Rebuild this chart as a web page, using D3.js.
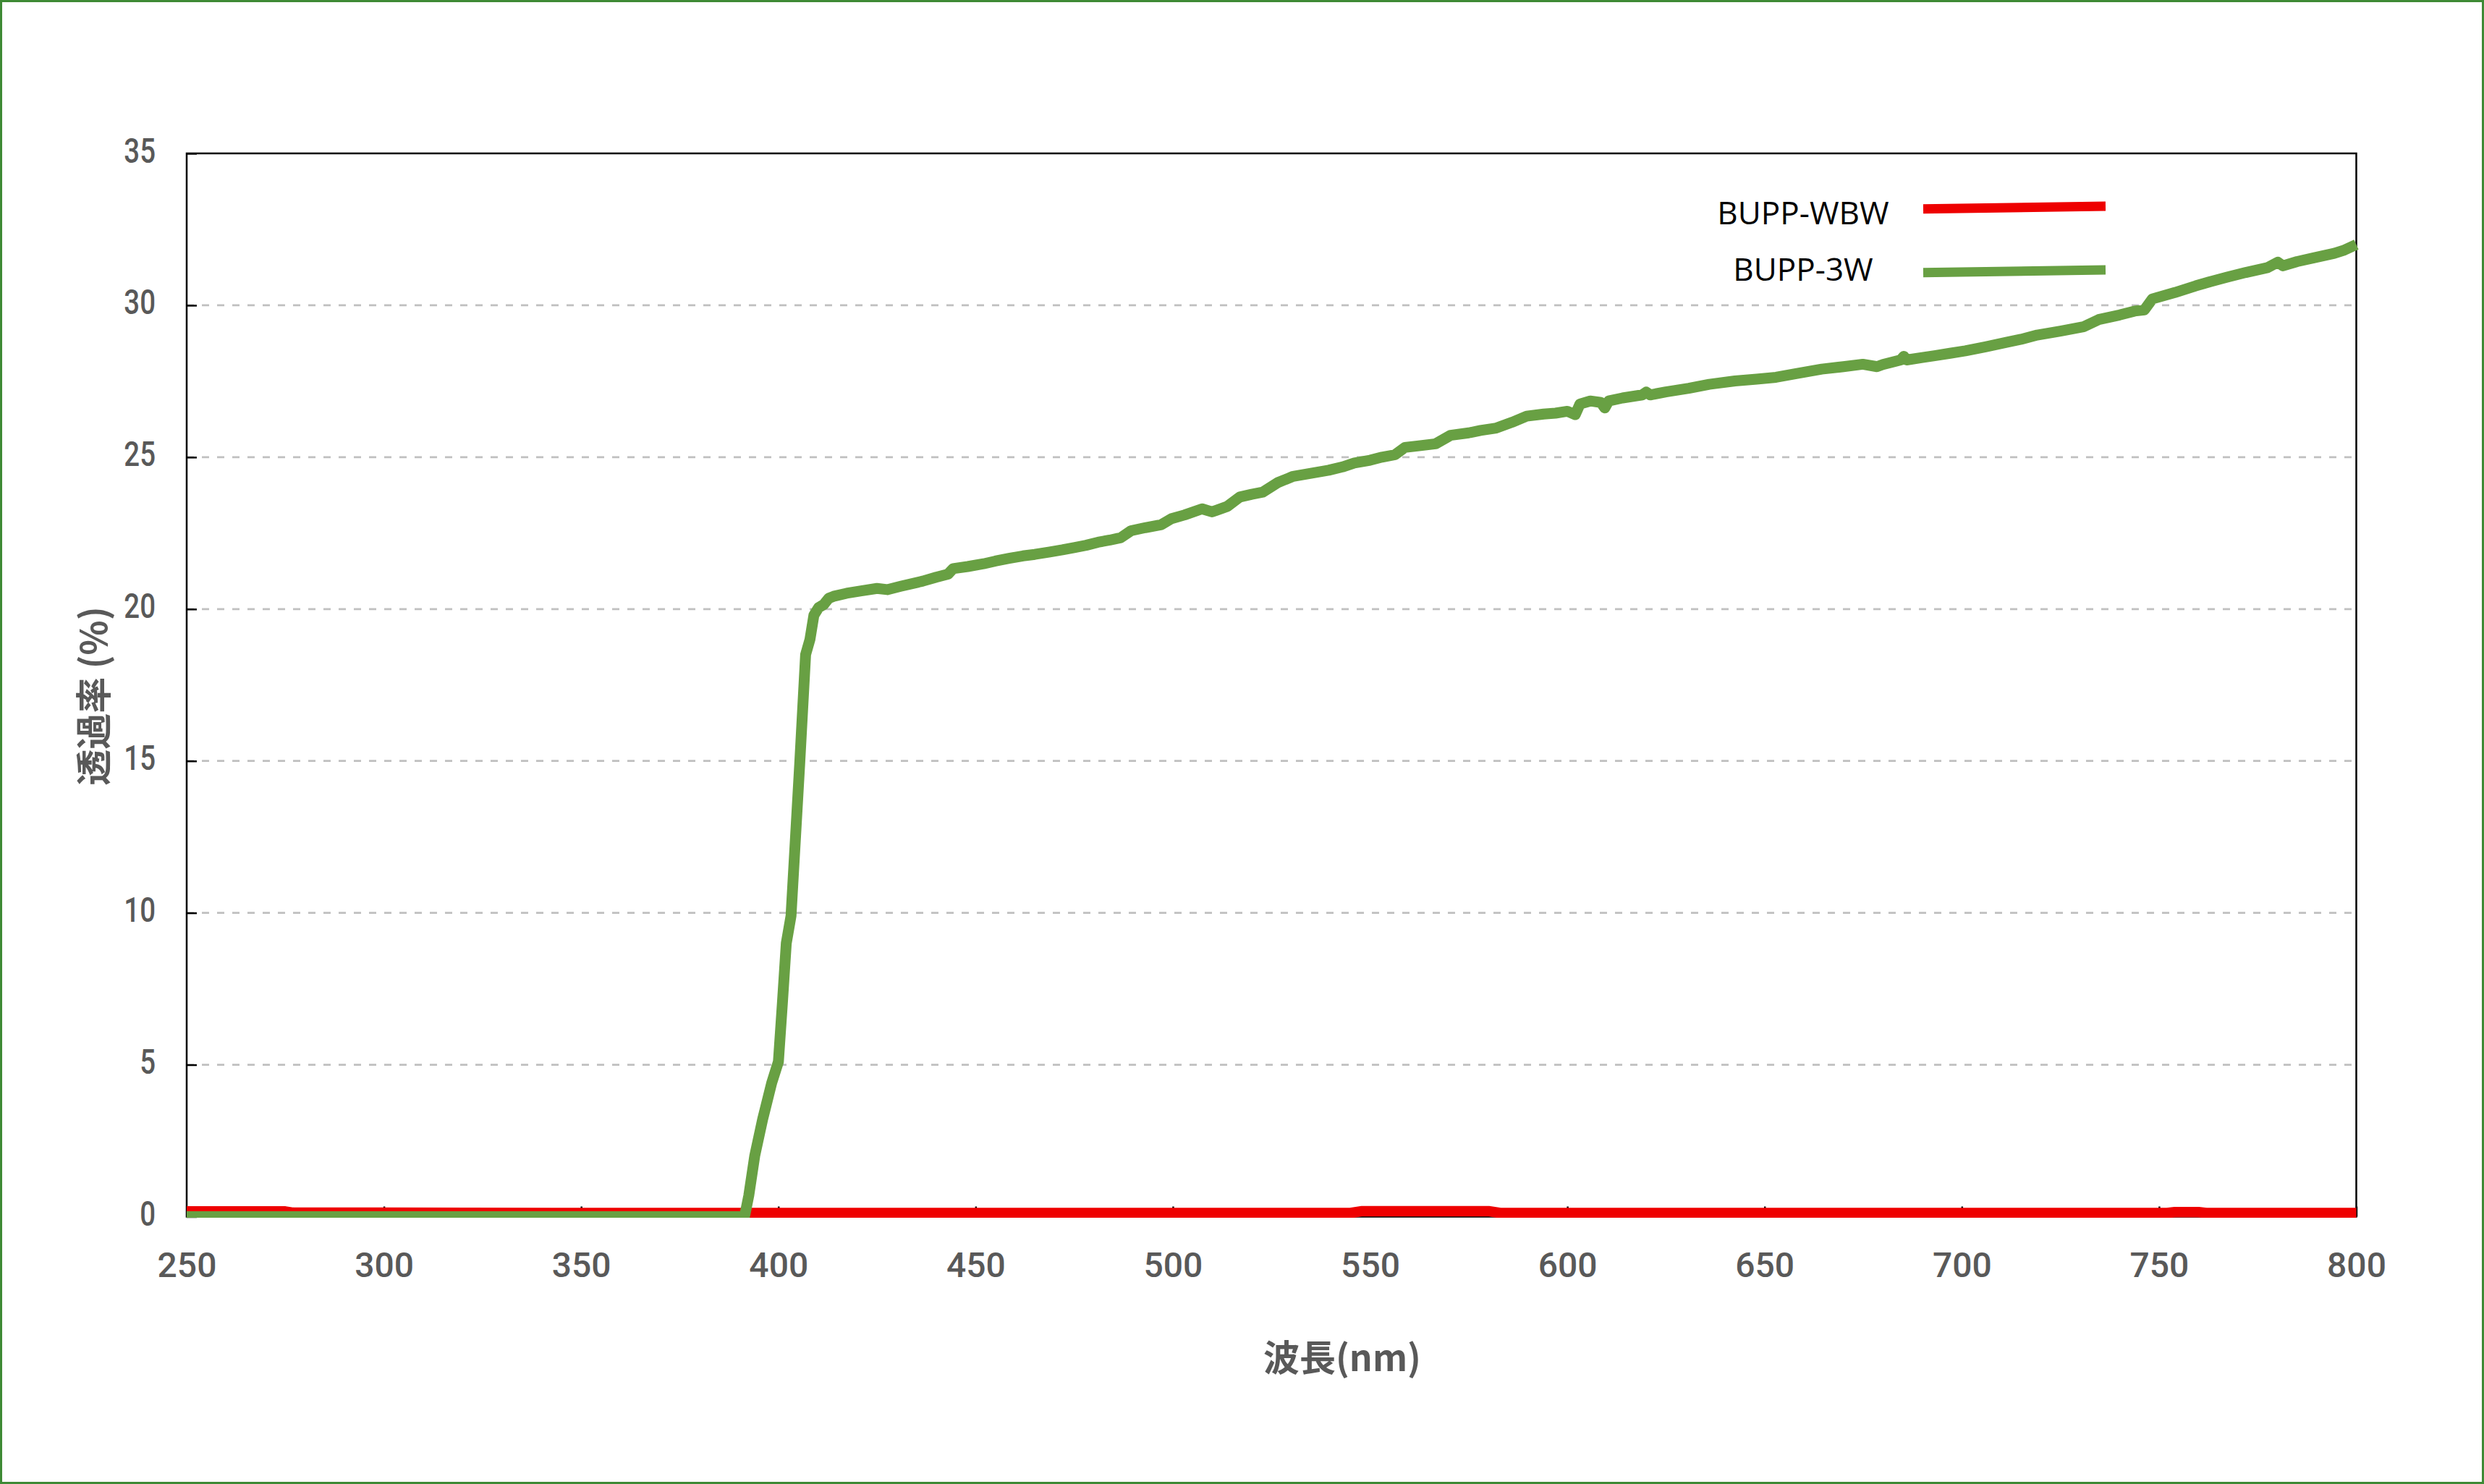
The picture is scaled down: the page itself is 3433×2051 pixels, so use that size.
<!DOCTYPE html>
<html><head><meta charset="utf-8">
<script src="https://cdn.jsdelivr.net/npm/d3@7"></script>
<style>html,body{margin:0;padding:0;background:#fff;}svg{display:block;}</style>
</head><body>
<script>
// ---- data ----
const seriesNames = ["BUPP-WBW", "BUPP-3W"];
const xTicks = [250,300,350,400,450,500,550,600,650,700,750,800];
const yTicks = [0,5,10,15,20,25,30,35];
const wbwNm  = [250,275,277,300,350,400,450,500,545,548,580,583,650,700,752,754,760,762,800];
const wbwVal = [0.17,0.17,0.13,0.13,0.12,0.12,0.12,0.12,0.12,0.18,0.18,0.12,0.12,0.12,0.12,0.15,0.15,0.12,0.12];
const w3Nm = [250,275,300,325,350,375,391,391.5,392.5,394,396,398.3,400,401,402,403.2,405.4,406.9,408,409,410.2,411.5,412.8,414,417.3,421,425,427.6,431,436.6,440,443,444.3,448,452,455,458.5,462,465,468.8,472,475.2,478,481,484,486.8,489.4,493,497.1,499.7,503,507.4,509.9,511,513.8,517,520,522.8,526.7,530.5,535,539.5,543,546,550,553,556.3,558.8,562,566.6,570.4,575,578,582,586,589.7,594,597,600,602,603.2,605.8,608.5,609.5,610.5,614,619,620,621,625,630.8,636,642.5,648,652.9,658,664.5,670,674.9,678.5,680,684.5,685.3,686,690,693.1,697,700.9,706,711.3,715,719.1,725,730.8,734.7,740,743.8,746.3,748.3,754,759.3,763,767.1,772,777.5,780.1,781.4,785,789.2,794.4,797,800];
const w3Val = [0,0,0,0,0,0,0,0.05,0.7,2.0,3.2,4.4,5.1,7.0,9.0,9.9,14.9,18.5,19.0,19.8,20.05,20.15,20.36,20.42,20.52,20.6,20.68,20.64,20.75,20.92,21.05,21.15,21.33,21.4,21.49,21.58,21.67,21.75,21.8,21.88,21.95,22.03,22.1,22.2,22.27,22.35,22.58,22.68,22.78,22.98,23.1,23.3,23.2,23.25,23.38,23.69,23.78,23.85,24.17,24.37,24.47,24.57,24.68,24.81,24.9,25.0,25.08,25.32,25.37,25.44,25.72,25.8,25.88,25.96,26.15,26.35,26.42,26.45,26.51,26.4,26.75,26.85,26.8,26.62,26.85,26.95,27.05,27.14,27.05,27.15,27.27,27.4,27.51,27.57,27.63,27.75,27.9,27.98,28.06,27.98,28.05,28.2,28.32,28.2,28.28,28.34,28.42,28.5,28.63,28.78,28.88,29.02,29.15,29.29,29.53,29.68,29.81,29.85,30.21,30.42,30.64,30.78,30.92,31.08,31.24,31.42,31.3,31.44,31.56,31.71,31.82,32.0];
const xTitle = "波長(nm)";
const yTitle = "透過率 (%)";
const colors = ["#ee0000", "#68a043"];

// ---- layout ----
const W = 3433, H = 2051;
const L = 258, R = 3256.5, T = 212, B = 1681.5;
const svg = d3.select("body").append("svg").attr("width", W).attr("height", H);
svg.append("rect").attr("x",1.5).attr("y",1.5).attr("width",W-3).attr("height",H-3)
  .attr("fill","#fff").attr("stroke","#3e8a35").attr("stroke-width",3);

const x = d3.scaleLinear().domain([250,800]).range([L,R]);
const y = d3.scaleLinear().domain([0,35]).range([B,T]);

// gridlines
svg.append("g").selectAll("line").data(yTicks.filter(d=>d>0 && d<35)).join("line")
  .attr("x1",L).attr("x2",R).attr("y1",d=>y(d)).attr("y2",d=>y(d))
  .attr("stroke","#c0c0c0").attr("stroke-width",2.7).attr("stroke-dasharray","10,11")
  .attr("stroke-dashoffset",-21);

// plot border
svg.append("rect").attr("x",L).attr("y",T).attr("width",R-L).attr("height",B-T)
  .attr("fill","none").attr("stroke","#000").attr("stroke-width",2.5);

const tickFont = "Roboto, 'DejaVu Sans', sans-serif";
// y axis
const gy = svg.append("g").attr("transform",`translate(${L},0)`)
  .call(d3.axisLeft(y).tickValues(yTicks).tickSize(-14).tickPadding(43));
gy.select(".domain").remove();
gy.selectAll(".tick line").attr("stroke","#000").attr("stroke-width",2.5);
gy.selectAll(".tick text").attr("font-family",tickFont).attr("font-size",48).attr("font-weight",500)
  .attr("fill","#595959").attr("x",-43/0.8).attr("dy","0.25em").attr("transform","scale(0.8,1)");
// x axis
const gx = svg.append("g").attr("transform",`translate(0,${B})`)
  .call(d3.axisBottom(x).tickValues(xTicks).tickSize(-14).tickPadding(49));
gx.select(".domain").remove();
gx.selectAll(".tick line").attr("stroke","#000").attr("stroke-width",2.5);
gx.selectAll(".tick text").attr("font-family",tickFont).attr("font-size",48).attr("font-weight",500)
  .attr("fill","#595959");

// axis titles
const cjk = "'Noto Sans CJK JP', 'Noto Sans CJK SC', sans-serif";
svg.append("text").attr("x",1855).attr("y",1895).attr("text-anchor","middle")
  .attr("font-family",cjk).attr("font-size",50).attr("font-weight",700).attr("fill","#595959").text(xTitle);
svg.append("text").attr("transform","translate(148,962) rotate(-90)").attr("text-anchor","middle")
  .attr("font-family",cjk).attr("font-size",50).attr("font-weight",700).attr("fill","#595959").text(yTitle);

// data lines
svg.append("defs").append("clipPath").attr("id","clip").append("rect")
  .attr("x",L-1).attr("y",T-20).attr("width",R-L+6).attr("height",B-T+21.5);
const line = d3.line().x(d=>x(d[0])).y(d=>y(d[1]));
const wbw = wbwNm.map((n,i)=>[n,wbwVal[i]]);
const w3 = w3Nm.map((n,i)=>[n,w3Val[i]]);
const gl = svg.append("g").attr("clip-path","url(#clip)");
gl.append("path").datum(wbw).attr("d",line).attr("fill","none").attr("stroke",colors[0])
  .attr("stroke-width",14.5).attr("stroke-linejoin","round");
gl.append("path").datum(w3).attr("d",line).attr("fill","none").attr("stroke",colors[1])
  .attr("stroke-width",15).attr("stroke-linejoin","round");

// legend
const legFont = "'Open Sans', 'Noto Sans', sans-serif";
const leg = [{name:seriesNames[0], c:colors[0], ty:310, y1:288.7, y2:285},
             {name:seriesNames[1], c:colors[1], ty:388, y1:376.7, y2:373}];
leg.forEach(d=>{
  svg.append("text").attr("x",2492).attr("y",d.ty).attr("text-anchor","middle")
    .attr("font-family",legFont).attr("font-size",44).attr("fill","#000").text(d.name);
  svg.append("line").attr("x1",2658).attr("x2",2910).attr("y1",d.y1).attr("y2",d.y2)
    .attr("stroke",d.c).attr("stroke-width",13);
});
</script>
</body></html>
